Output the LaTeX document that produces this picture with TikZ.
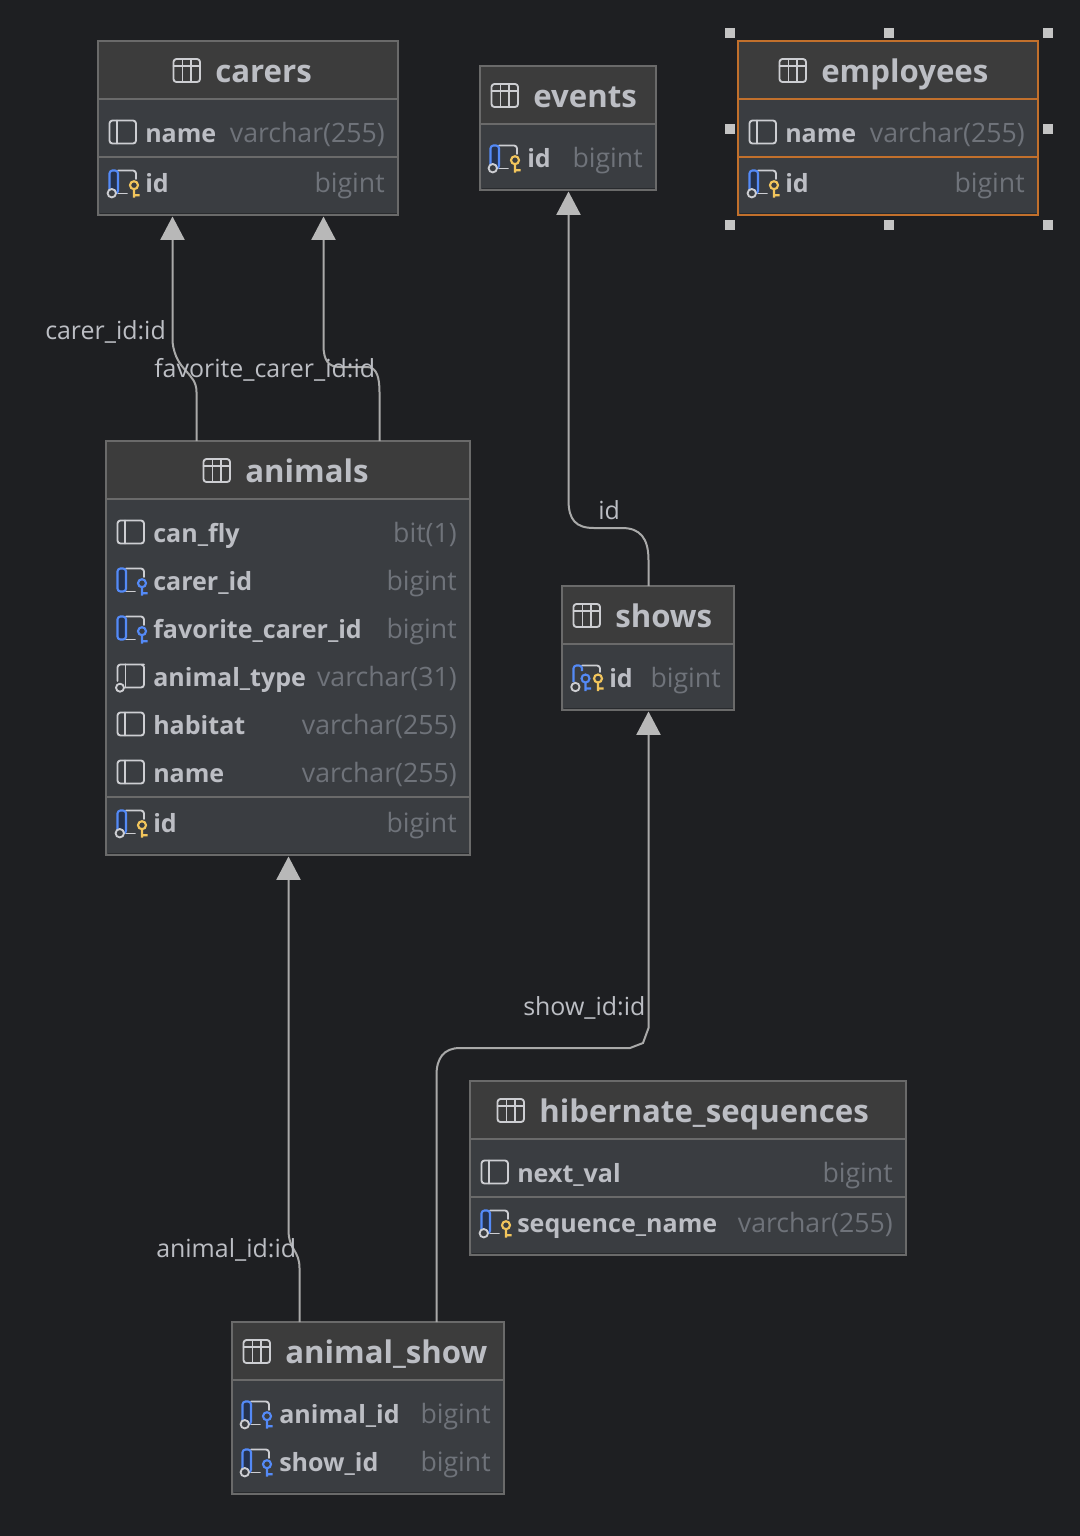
\documentclass[tikz,border=0pt]{standalone}
\usepackage{fontspec}
\setmainfont{Open Sans}
\usetikzlibrary{arrows.meta,calc}
\definecolor{bgc}{HTML}{1E1F22}
\definecolor{headc}{HTML}{3C3C3C}
\definecolor{bodyc}{HTML}{3A3D41}
\definecolor{bordc}{HTML}{6A6A6A}
\definecolor{selc}{HTML}{C2702C}
\definecolor{namec}{HTML}{BCBEC4}
\definecolor{typec}{HTML}{6F737A}
\definecolor{iconc}{HTML}{CDCED2}
\definecolor{bluec}{HTML}{548AF7}
\definecolor{bluef}{HTML}{25324D}
\definecolor{keyc}{HTML}{F2C55C}
\definecolor{linec}{HTML}{A9A9A9}
\definecolor{tipc}{HTML}{B8B8B8}
\definecolor{handc}{HTML}{C4C4C4}
\newcount\fldno
\tikzset{
  x=0.75pt,y=-0.75pt,
  tablebox/.style={draw=#1,line width=1.5pt,fill=bodyc,anchor=north west,inner sep=0pt,outer sep=0pt},
  titletext/.style={text=namec,anchor=base west,inner sep=0pt,font=\fontsize{23.4}{28}\selectfont\bfseries},
  fieldtext/.style={text=namec,anchor=base west,inner sep=0pt,font=\fontsize{18.8}{24}\selectfont\bfseries},
  typetext/.style={text=typec,anchor=base east,inner sep=0pt,font=\fontsize{20}{24}\selectfont},
  edgetext/.style={text=namec,anchor=base west,inner sep=0pt,font=\fontsize{18.7}{22}\selectfont},
  relation/.style={draw=linec,line width=1.5pt,-{Triangle[width=18pt,length=17.5pt,color=tipc]}},
  handle/.style={fill=handc,minimum size=7.5pt,inner sep=0pt,outer sep=0pt},
  icn/.style={draw=iconc,line width=1.4pt,line cap=round,line join=round},
  blu/.style={draw=bluec,line width=1.6pt,line join=round},
  tblicon/.pic={\draw[icn,rounded corners=2.2pt] (0.5,0.5) rectangle (27,23.5);
    \draw[icn] (0.5,7.5)--(27,7.5) (9.5,0.5)--(9.5,23.5) (18,0.5)--(18,23.5);},
  colicon/.pic={\draw[icn,rounded corners=2.2pt] (0.5,0.5) rectangle (27,23.5);
    \draw[icn] (8,0.5)--(8,23.5);},
  nncol/.pic={\draw[icn,rounded corners=2.2pt] (8.5,0.5)--(24,0.5)--(27,0.5)--(27,23.5)--(8.5,23.5);
    \draw[icn] (8.5,0.5)--(8.5,23.5);
    \draw[icn,rounded corners=2.2pt] (8.5,0.5)--(0.5,0.5)--(0.5,17);
    \draw[icn,fill=bodyc] (3,23.7) circle[radius=4];},
  fkshape/.pic={\draw[icn,rounded corners=2.2pt] (9,0.5)--(27,0.5)--(27,9);
    \draw[icn] (9,23.5)--(18,23.5);
    \draw[blu,fill=bluef,rounded corners=2.2pt] (9,0.5)--(0.5,0.5)--(0.5,23.5)--(9,23.5)--cycle;},
  ringmark/.pic={\draw[icn,fill=bodyc] (2.8,23.2) circle[radius=4.2];},
  bluekey/.pic={\draw[draw=bluec,line width=1.6pt] (0,0) circle[radius=4] (0,4)--(0,12.5) (0,10)--(5.5,10);},
  goldkey/.pic={\draw[draw=keyc,line width=1.6pt] (0,0) circle[radius=4] (0,4)--(0,12.5) (0,10)--(5.5,10);},
  pkicon/.pic={\pic at (0,0) {fkshape}; \pic at (0,0) {ringmark}; \pic at (25,15.2) {goldkey};},
  fkicon/.pic={\pic at (0,0) {fkshape}; \pic at (25,15.2) {bluekey};},
  fknnicon/.pic={\pic at (0,0) {fkshape}; \pic at (0,0) {ringmark}; \pic at (25,15.2) {bluekey};},
  pkfkicon/.pic={\draw[icn,rounded corners=2.2pt] (9,0.5)--(27,0.5)--(27,7);
    \draw[blu,rounded corners=2.2pt] (9,6)--(9,0.5)--(0.5,0.5)--(0.5,17);
    \pic at (2.4,22) {ringmark0}; \pic at (12.5,13.5) {bluekey}; \pic at (25,13.5) {goldkey};},
  ringmark0/.pic={\draw[icn,fill=bodyc] (0,0) circle[radius=4.2];},
}
% table: name, x1,y1,x2,y2, header bottom, title icon x, title x, title
\newcommand{\dbtable}[9]{%
  \node[tablebox={bordc},minimum width={(#4-#2)*0.75pt},minimum height={(#5-#3)*0.75pt}] (#1) at (#2,#3) {};
  \fill[headc] (#2+1,#3+1) rectangle (#4-1,#6);
  \draw[bgc!60!bodyc,line width=0.6pt] (#2+1.5,#5-1.5)--(#4-1.5,#5-1.5);
  \draw[bordc,line width=1.5pt] (#2,#6)--(#4,#6);
  \pic at (#7,#3+17.5) {tblicon};
  \node[titletext] (#1-title) at (#8,#3+41) {#9};
}
% field: icon, icon x, text x, centre y, name, right x, type
\newcommand{\dbfield}[7]{%
  \global\advance\fldno by 1
  \pic at (#2,#4-13) {#1};
  \node[fieldtext] (fname\the\fldno) at (#3,#4+9.5) {#5};
  \node[typetext] (ftype\the\fldno) at (#6,#4+9.5) {#7};
}
\begin{document}
\begin{tikzpicture}
\useasboundingbox (0,0) rectangle (1080,1536);
\fill[bgc] (0,0) rectangle (1080,1536);

% carers
\dbtable{carers}{98}{41}{398}{215}{99}{173}{215}{carers}
\draw[bordc,line width=1.5pt] (98,157)--(398,157);
\dbfield{colicon}{109}{145}{133}{name}{385}{varchar(255)}
\dbfield{pkicon}{109}{145}{183}{id}{385}{bigint}

% events
\dbtable{events}{480}{66}{656}{190}{124}{491}{533}{events}
\dbfield{pkicon}{490}{527}{158}{id}{643}{bigint}

% employees
\dbtable{employees}{738}{41}{1038}{215}{99}{779}{821}{employees}
\draw[bordc,line width=1.5pt] (738,157)--(1038,157);
\dbfield{colicon}{749}{785}{133}{name}{1025}{varchar(255)}
\dbfield{pkicon}{749}{785}{183}{id}{1025}{bigint}
\draw[selc,line width=1.5pt] (738,41) rectangle (1038,215) (738,99)--(1038,99) (738,157)--(1038,157);

% animals
\dbtable{animals}{106}{441}{470}{855}{499}{203}{245}{animals}
\draw[bordc,line width=1.5pt] (106,797)--(470,797);
\dbfield{colicon}{117}{153}{533}{can\_fly}{457}{bit(1)}
\dbfield{fkicon}{117}{153}{581}{carer\_id}{457}{bigint}
\dbfield{fkicon}{117}{153}{629}{favorite\_carer\_id}{457}{bigint}
\dbfield{nncol}{117}{153}{677}{animal\_type}{457}{varchar(31)}
\dbfield{colicon}{117}{153}{725}{habitat}{457}{varchar(255)}
\dbfield{colicon}{117}{153}{773}{name}{457}{varchar(255)}
\dbfield{pkicon}{117}{153}{823}{id}{457}{bigint}

% shows
\dbtable{shows}{562}{586}{734}{710}{644}{573}{615}{shows}
\dbfield{pkfkicon}{573}{609}{678}{id}{721}{bigint}

% hibernate_sequences
\dbtable{hibseq}{470}{1081}{906}{1255}{1139}{497}{539}{hibernate\_sequences}
\draw[bordc,line width=1.5pt] (470,1197)--(906,1197);
\dbfield{colicon}{481}{517}{1173}{next\_val}{893}{bigint}
\dbfield{pkicon}{481}{517}{1223}{sequence\_name}{893}{varchar(255)}

% animal_show
\dbtable{animalshow}{232}{1322}{504}{1494}{1380}{243}{285}{animal\_show}
\dbfield{fknnicon}{242}{279}{1414}{animal\_id}{491}{bigint}
\dbfield{fknnicon}{242}{279}{1462}{show\_id}{491}{bigint}

% connector ends on the table borders
\coordinate (carerFrom) at ($(animals.north west)+(90.5,0)$);
\coordinate (favFrom) at ($(animals.north west)+(273.5,0)$);
\coordinate (carerTo) at ($(carers.south west)+(74.5,1.5)$);
\coordinate (favTo) at ($(carers.south west)+(225.5,1.5)$);
\coordinate (eventFrom) at ($(shows.north west)+(86.5,0)$);
\coordinate (eventTo) at ($(events.south west)+(88.5,1.5)$);
\coordinate (showFrom) at ($(animalshow.north west)+(204.5,0)$);
\coordinate (showTo) at ($(shows.south west)+(86.5,1.5)$);
\coordinate (animalFrom) at ($(animalshow.north west)+(67.5,0)$);
\coordinate (animalTo) at ($(animals.south west)+(182.5,1.5)$);

% connectors
\draw[relation] (carerFrom)--(196.5,392) .. controls (196.5,372) and (176,372) .. (172.5,342)--(carerTo);
\draw[relation] (favFrom)--(379.5,392) .. controls (379.5,378) and (377,367) .. (367,367)--(340,367) .. controls (328,367) and (323.5,360) .. (323.5,345)--(favTo);
\draw[relation] (eventFrom)--(648.5,560) .. controls (648.5,538) and (640,528) .. (622,528)--(594,528) .. controls (576,528) and (568.5,520) .. (568.5,500)--(eventTo);
\draw[relation] (showFrom)--(436.5,1075) .. controls (436.5,1058) and (444,1048) .. (460,1048)--(630,1048)--(643,1043)--(648.5,1028)--(showTo);
\draw[relation] (animalFrom)--(299.5,1268) .. controls (299.5,1250) and (288.5,1250) .. (288.5,1230)--(animalTo);

% connector labels
\node[edgetext] (lblcarer) at (45,339) {carer\_id:id};
\node[edgetext] (lblfav) at (154,377) {favorite\_carer\_id:id};
\node[edgetext] (lblid) at (598,519) {id};
\node[edgetext] (lblshow) at (523,1015) {show\_id:id};
\node[edgetext] (lblanimal) at (156,1257) {animal\_id:id};

% selection handles
\node[handle] (h1) at (730,33) {};
\node[handle] (h2) at (889,33) {};
\node[handle] (h3) at (1048,33) {};
\node[handle] (h4) at (730,129) {};
\node[handle] (h5) at (1048,129) {};
\node[handle] (h6) at (730,225) {};
\node[handle] (h7) at (889,225) {};
\node[handle] (h8) at (1048,225) {};
\end{tikzpicture}
\end{document}
